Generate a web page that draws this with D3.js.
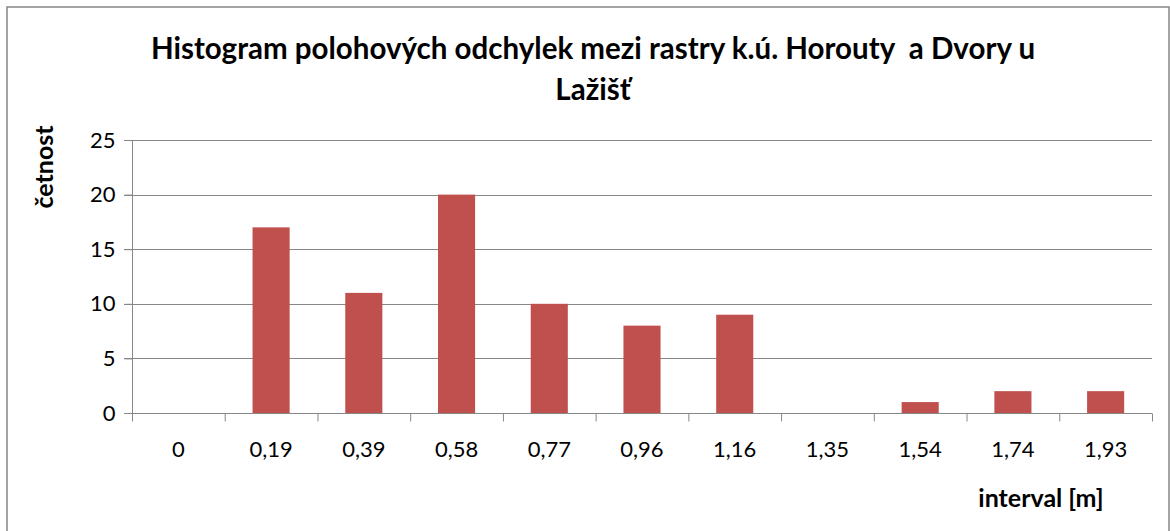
<!DOCTYPE html>
<html>
<head>
<meta charset="utf-8">
<script src="https://cdn.jsdelivr.net/npm/d3@7"></script>
<style>
  body { margin: 0; background: #fff; }
  svg text { font-family: Lato, "Open Sans", sans-serif; fill: #000; }
</style>
</head>
<body>
<svg id="chart"></svg>
<script>
(function(){
  // data
  let categories = ['0', '0,19', '0,39', '0,58', '0,77', '0,96', '1,16', '1,35', '1,54', '1,74', '1,93'];
  let counts = [0, 17, 11, 20, 10, 8, 9, 0, 1, 2, 2];
  let yTicks = [0, 5, 10, 15, 20, 25];
  let titleLines = ['Histogram polohových odchylek mezi rastry k.ú. Horouty  a Dvory u', 'Lažišť'];

  let width = 1170, height = 531;
  let margin = {top: 140, right: 18, bottom: 118, left: 132};

  let svg = d3.select('#chart')
      .attr('width', width)
      .attr('height', height);

  // outer frame of the chart object
  svg.append('rect')
      .attr('x', 7).attr('y', 7)
      .attr('width', 1162).attr('height', 540)
      .attr('fill', '#fff')
      .attr('stroke', '#878787')
      .attr('stroke-width', 1.5);

  let x = d3.scaleBand()
      .domain(categories)
      .range([margin.left, width - margin.right])
      .paddingInner(0.6)
      .paddingOuter(0.3);

  let y = d3.scaleLinear()
      .domain([0, 25])
      .range([height - margin.bottom, margin.top]);

  // gridlines
  svg.append('g')
      .attr('stroke', '#878787')
      .attr('stroke-width', 1)
    .selectAll('line')
    .data(yTicks.slice(1))
    .enter().append('line')
      .attr('x1', margin.left - 8)
      .attr('x2', width - margin.right)
      .attr('y1', d => Math.round(y(d)) + 0.5)
      .attr('y2', d => Math.round(y(d)) + 0.5);

  // bars
  svg.append('g')
    .selectAll('rect')
    .data(counts)
    .enter().append('rect')
      .attr('x', (d, i) => x(categories[i]))
      .attr('y', d => y(d))
      .attr('width', x.bandwidth())
      .attr('height', d => y(0) - y(d))
      .attr('fill', '#c0504d');

  // y axis
  let yAxis = svg.append('g')
      .attr('transform', `translate(${margin.left + 0.5},0)`)
      .call(d3.axisLeft(y).tickValues(yTicks).tickSize(8).tickPadding(9));
  yAxis.selectAll('line, path').attr('stroke', '#878787');
  yAxis.select('.domain').attr('d', `M0,${y(25)}V${y(0)}`);
  yAxis.selectAll('text').attr('font-size', 22).style('font-family', 'Lato, sans-serif');

  // x axis: ticks sit between categories
  let step = x.step();
  let xAxis = svg.append('g')
      .attr('transform', `translate(0,${Math.round(y(0)) + 0.5})`);
  xAxis.append('line')
      .attr('x1', margin.left - 8).attr('x2', width - margin.right)
      .attr('stroke', '#878787');
  xAxis.selectAll('line.tick')
    .data(d3.range(categories.length + 1))
    .enter().append('line')
      .attr('class', 'tick')
      .attr('x1', i => margin.left + 0.5 + i * step)
      .attr('x2', i => margin.left + 0.5 + i * step)
      .attr('y1', 0).attr('y2', 8)
      .attr('stroke', '#878787');
  xAxis.selectAll('text')
    .data(categories)
    .enter().append('text')
      .attr('x', d => x(d) + x.bandwidth() / 2)
      .attr('y', 43)
      .attr('text-anchor', 'middle')
      .attr('font-size', 22)
      .text(d => d);

  // titles
  svg.append('g')
    .selectAll('text')
    .data(titleLines)
    .enter().append('text')
      .attr('x', 593)
      .attr('y', (d, i) => 59 + i * 41)
      .attr('text-anchor', 'middle')
      .attr('font-size', 29.5)
      .attr('font-weight', 'bold')
      .style('white-space', 'pre')
      .text(d => d);

  svg.append('text')
      .attr('transform', 'translate(53,167) rotate(-90)')
      .attr('text-anchor', 'middle')
      .attr('font-size', 25)
      .attr('font-weight', 'bold')
      .text('četnost');

  svg.append('text')
      .attr('x', 1041)
      .attr('y', 507)
      .attr('text-anchor', 'middle')
      .attr('font-size', 25)
      .attr('font-weight', 'bold')
      .text('interval [m]');
})();
</script>
</body>
</html>
